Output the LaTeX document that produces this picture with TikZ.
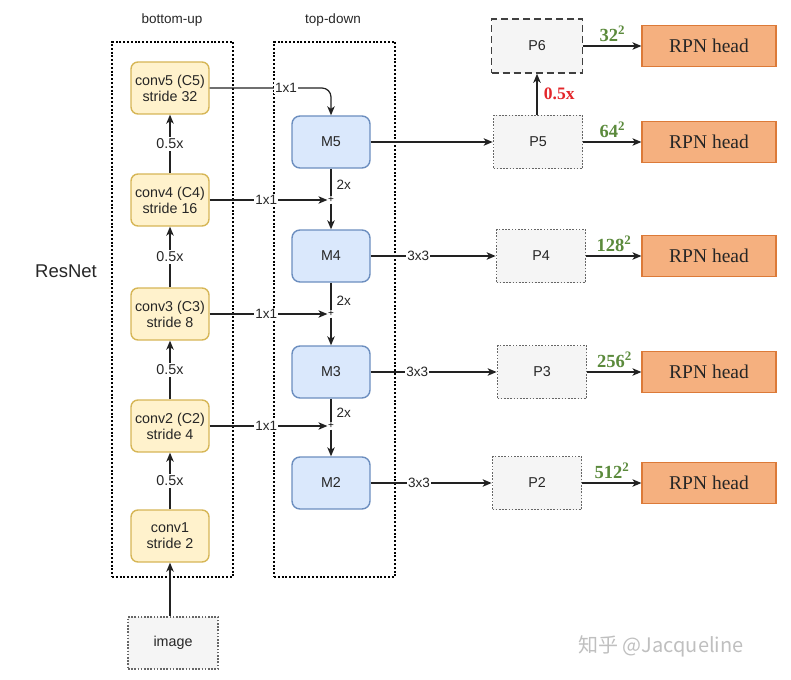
\documentclass[tikz,border=0pt]{standalone}
\usepackage{fontspec}
\setmainfont{Liberation Sans}
\newfontfamily\serifrm{Liberation Serif}
\newfontfamily\cjk{Noto Sans CJK SC}
\usetikzlibrary{arrows.meta}
\definecolor{yfill}{HTML}{FFF2CC}
\definecolor{ydraw}{HTML}{D6B656}
\definecolor{bfill}{HTML}{DAE8FC}
\definecolor{bdraw}{HTML}{6C8EBF}
\definecolor{gfill}{HTML}{F5F5F5}
\definecolor{gdraw}{HTML}{666666}
\definecolor{ofill}{HTML}{F5B07F}
\definecolor{odraw}{HTML}{DC7A38}
\definecolor{grn}{HTML}{5B8A3C}
\definecolor{redlbl}{HTML}{E3262A}
\definecolor{linec}{HTML}{222222}
\begin{document}
\begin{tikzpicture}[x=1pt,y=-1pt,
  txt/.style={font=\fontsize{14.3}{16}\selectfont, align=center, text=black!85},
  convbox/.style={txt, draw=ydraw, fill=yfill, line width=1.4pt, rounded corners=7pt, minimum width=78pt, minimum height=52pt, inner sep=0pt},
  mbox/.style={txt, draw=bdraw, fill=bfill, line width=1.4pt, rounded corners=8pt, minimum width=78pt, minimum height=52pt, inner sep=0pt},
  pbox/.style={txt, draw=gdraw, fill=gfill, line width=1.8pt, dash pattern=on 1.6pt off 1.6pt, minimum width=89pt, minimum height=53pt, inner sep=0pt},
  p6box/.style={txt, draw=black!75, fill=gfill, line width=1.6pt, dash pattern=on 7pt off 4pt, minimum width=91pt, minimum height=54pt, inner sep=0pt},
  rpnbox/.style={draw=odraw, fill=ofill, line width=1.2pt, minimum width=134pt, minimum height=41pt, inner sep=0pt, font=\serifrm\fontsize{19.5}{19.5}\selectfont, text=black!85},
  bigbox/.style={draw=black, line width=2pt, dash pattern=on 2pt off 1.8pt, inner sep=0pt},
  arr/.style={-{Stealth[length=9pt,width=7.5pt,inset=2.5pt]}, line width=1.2pt, draw=linec},
  ln/.style={line width=1.2pt, draw=linec},
  lbl/.style={font=\fontsize{13.5}{13.5}\selectfont, fill=white, inner sep=1pt, text=black!85},
  sc/.style={font=\fontsize{14.3}{14.3}\selectfont, fill=white, inner sep=1.5pt, text=black!85},
  plus/.style={font=\fontsize{10}{10}\selectfont, inner sep=0.5pt},
  size/.style={font=\serifrm\bfseries\fontsize{18.5}{18.5}\selectfont, text=grn, anchor=south, inner sep=1pt}
]
\useasboundingbox (0,0) rectangle (791,679);

% group boxes
\node[bigbox, minimum width=121pt, minimum height=535pt] (bu) at (172.5,309.5) {};
\node[bigbox, minimum width=121pt, minimum height=535pt] (td) at (334.5,309.5) {};
\node[font=\fontsize{13.5}{13.5}\selectfont, text=black!85] (bulbl) at (172,20) {bottom-up};
\node[font=\fontsize{13.5}{13.5}\selectfont, text=black!85] (tdlbl) at (333,20) {top-down};
\node[font=\fontsize{18.5}{18.5}\selectfont, text=black!85] (resnet) at (66,271) {ResNet};

% bottom-up
\node[convbox] (c5) at (170,88) {conv5 (C5)\\stride 32};
\node[convbox] (c4) at (170,200) {conv4 (C4)\\stride 16};
\node[convbox] (c3) at (170,314) {conv3 (C3)\\stride 8};
\node[convbox] (c2) at (170,426) {conv2 (C2)\\stride 4};
\node[convbox] (c1) at (170,536) {conv1\\stride 2};
\node[pbox, minimum width=90pt, minimum height=52pt] (img) at (173,643) {image};

\draw[arr] (img.north -| c1.south) -- (c1.south);
\draw[arr] (c1.north) -- node[sc]{0.5x} (c2.south);
\draw[arr] (c2.north) -- node[sc]{0.5x} (c3.south);
\draw[arr] (c3.north) -- node[sc]{0.5x} (c4.south);
\draw[arr] (c4.north) -- node[sc]{0.5x} (c5.south);

% top-down
\node[mbox] (m5) at (331,142) {M5};
\node[mbox] (m4) at (331,256) {M4};
\node[mbox] (m3) at (331,372) {M3};
\node[mbox] (m2) at (331,483) {M2};
\node[plus] (p4) at (331,200) {+};
\node[plus] (p3) at (331,314) {+};
\node[plus] (p2) at (331,426) {+};

\draw[arr, rounded corners=9pt] (c5.east) -- (c5.east -| m5.north) -- (m5.north);
\node[lbl] (l5) at (286,88) {1x1};
\draw[arr] (c4.east) -- node[lbl, pos=0.48]{1x1} (p4.west);
\draw[arr] (c3.east) -- node[lbl, pos=0.48]{1x1} (p3.west);
\draw[arr] (c2.east) -- node[lbl, pos=0.48]{1x1} (p2.west);

\draw[ln] (m5.south) -- node[right, lbl, fill=none, xshift=4pt, yshift=-2pt]{2x} (p4.north);
\draw[arr] (p4.south) -- (m4.north);
\draw[ln] (m4.south) -- node[right, lbl, fill=none, xshift=4pt, yshift=-4pt]{2x} (p3.north);
\draw[arr] (p3.south) -- (m3.north);
\draw[ln] (m3.south) -- node[right, lbl, fill=none, xshift=4pt, yshift=-2pt]{2x} (p2.north);
\draw[arr] (p2.south) -- (m2.north);

% pyramid outputs
\node[p6box] (P6) at (537,46) {P6};
\node[pbox] (P5) at (538,142) {P5};
\node[pbox] (P4) at (541,256) {P4};
\node[pbox] (P3) at (542,372) {P3};
\node[pbox] (P2) at (537,483) {P2};

\draw[arr] (m5.east) -- (P5.west);
\draw[arr] (m4.east) -- node[lbl, pos=0.38]{3x3} (P4.west);
\draw[arr] (m3.east) -- node[lbl, pos=0.37]{3x3} (P3.west);
\draw[arr] (m2.east) -- node[lbl, pos=0.4]{3x3} (P2.west);
\draw[arr] (P5.north -| P6.south) -- node[right, font=\serifrm\bfseries\fontsize{17.5}{17.5}\selectfont, text=redlbl, xshift=3pt]{0.5x} (P6.south);

% RPN heads
\node[rpnbox] (r6) at (709,46) {RPN head};
\node[rpnbox] (r5) at (709,142) {RPN head};
\node[rpnbox] (r4) at (709,256) {RPN head};
\node[rpnbox] (r3) at (709,372) {RPN head};
\node[rpnbox] (r2) at (709,483) {RPN head};

\draw[arr] (P6.east) -- node[size, yshift=3pt]{32\textsuperscript{2}} (r6.west);
\draw[arr] (P5.east) -- node[size, yshift=3pt]{64\textsuperscript{2}} (r5.west);
\draw[arr] (P4.east) -- node[size, yshift=3pt]{128\textsuperscript{2}} (r4.west);
\draw[arr] (P3.east) -- node[size, yshift=3pt]{256\textsuperscript{2}} (r3.west);
\draw[arr] (P2.east) -- node[size, yshift=3pt]{512\textsuperscript{2}} (r2.west);

% watermark
\node[font=\cjk\fontsize{20}{20}\selectfont, text=black!25] (wm) at (661,646) {知乎 @Jacqueline};
\end{tikzpicture}
\end{document}
